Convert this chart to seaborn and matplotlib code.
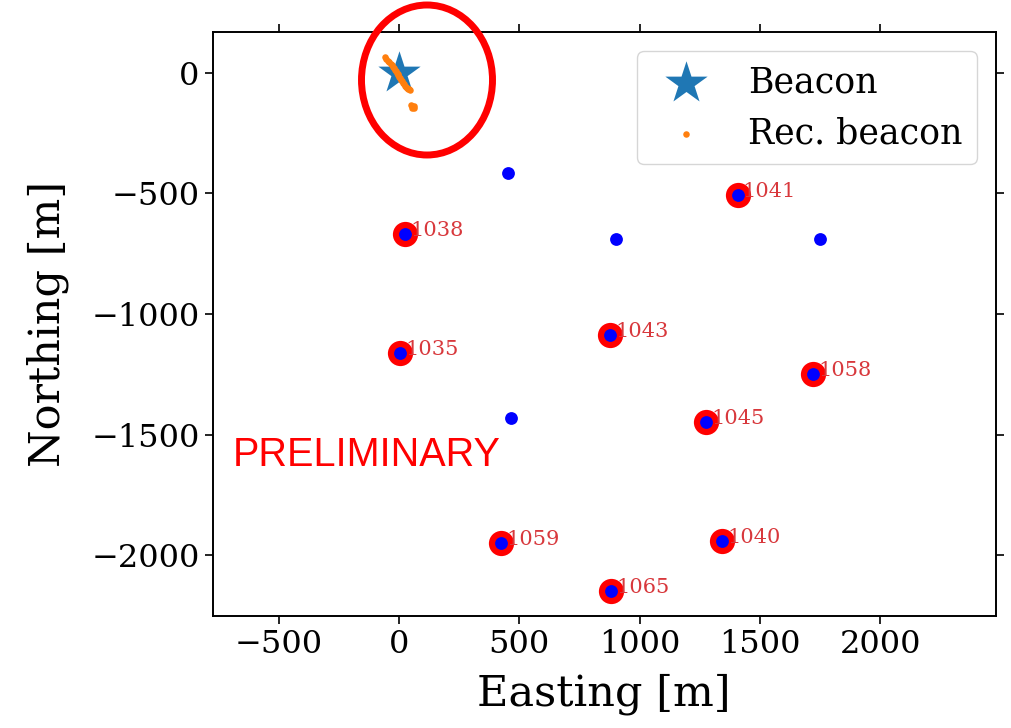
import matplotlib
matplotlib.use("Agg")
import matplotlib.pyplot as plt
import seaborn as sns
import pandas as pd
from matplotlib.patches import Ellipse

# antenna positions (m)
ant_ids = ["1038", "1041", "1043", "1035", "1058", "1045", "1059", "1040", "1065"]
ant_east = [25, 1407, 876, 4, 1722, 1278, 423, 1344, 880]
ant_north = [-670, -508, -1089, -1163, -1250, -1449, -1948, -1940, -2147]

# antennas without a reconstruction (blue only)
other_east = [452, 900, 1751, 465]
other_north = [-417, -690, -690, -1433]

beacon_east = [0]
beacon_north = [0]

# reconstructed beacon positions
rec_east = [-58, -52, -46, -40, -35, -30, -26, -22, -18, -14, -10, -6, -2, 2, 6, 10,
            14, 18, 22, 26, 30, 34, 38, 42, 46, 52, 55, 58, 61, 56, 62]
rec_north = [65, 58, 50, 42, 36, 30, 24, 18, 12, 6, 0, -6, -12, -18, -24, -30,
             -36, -42, -48, -54, -58, -62, -66, -70, -74, -136, -140, -143, -146, -148, -140]

df_ant = pd.DataFrame({"east": ant_east, "north": ant_north, "id": ant_ids})
df_all = pd.DataFrame({"east": ant_east + other_east, "north": ant_north + other_north})
df_beacon = pd.DataFrame({"east": beacon_east, "north": beacon_north})
df_rec = pd.DataFrame({"east": rec_east, "north": rec_north})

sns.set_theme(style="ticks")
plt.rcParams["font.family"] = ["DejaVu Serif"]
plt.rcParams["text.color"] = "black"
plt.rcParams["axes.labelcolor"] = "black"
plt.rcParams["xtick.color"] = "black"
plt.rcParams["ytick.color"] = "black"

fig = plt.figure(figsize=(10.12, 7.28), dpi=100)
ax = fig.add_axes([0.2102, 0.154, 0.7737, 0.802])

sns.scatterplot(data=df_ant, x="east", y="north", s=330, color="red", linewidth=0, ax=ax)
sns.scatterplot(data=df_all, x="east", y="north", s=85, color="blue", linewidth=0, ax=ax)
sns.scatterplot(data=df_beacon, x="east", y="north", s=1024, marker="*", color="#1f77b4",
                linewidth=0, label="Beacon", ax=ax)
sns.scatterplot(data=df_rec, x="east", y="north", s=22, color="#ff7f0e",
                linewidth=0, label="Rec. beacon", ax=ax)

for _, r in df_ant.iterrows():
    ax.text(r["east"] + 22, r["north"] - 8, r["id"], color="#d8383c", fontsize=15)

ax.set_xlim(-774, 2480)
ax.set_ylim(-2251, 168)
ax.set_xticks([-500, 0, 500, 1000, 1500, 2000])
ax.set_yticks([0, -500, -1000, -1500, -2000])
ax.tick_params(axis="both", which="major", labelsize=23, direction="out",
               length=6, width=1.2, top=True, right=True, color="black")
for sp in ax.spines.values():
    sp.set_color("black")
    sp.set_linewidth(1.4)
ax.set_xlabel("Easting [m]", fontsize=31, labelpad=9)
ax.set_ylabel("Northing [m]", fontsize=31, labelpad=16)

ax.legend(loc="upper right", fontsize=25, frameon=True, borderaxespad=0.55)

ax.text(0.026, 0.275, "PRELIMINARY", transform=ax.transAxes, color="red",
        fontsize=28.5, family=["Liberation Sans"], va="center")

ell = Ellipse((427 / 1012, 1 - 80 / 728), 131 / 1012, 150 / 728, transform=fig.transFigure,
              fill=False, edgecolor="red", linewidth=5, clip_on=False)
fig.patches.append(ell)

fig.savefig("out.png", dpi=100)
